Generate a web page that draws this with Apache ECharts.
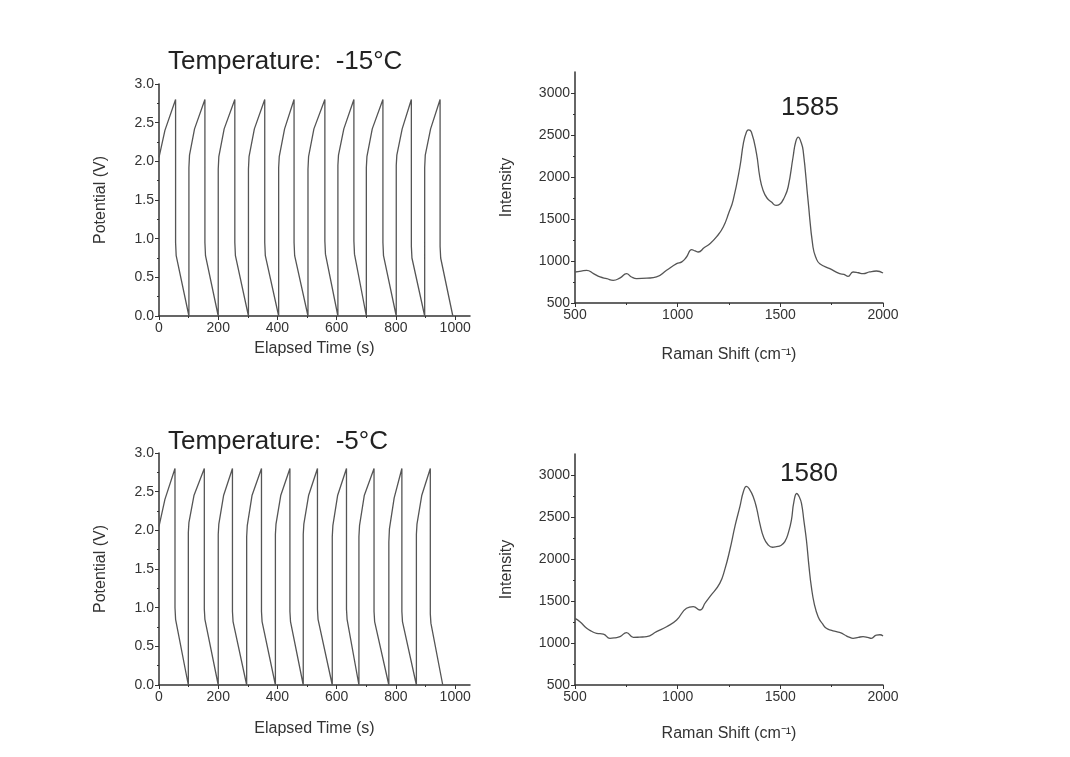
<!DOCTYPE html>
<html>
<head>
<meta charset="utf-8">
<script src="https://cdn.jsdelivr.net/npm/echarts@6/dist/echarts.min.js"></script>
<style>
  html, body { margin: 0; padding: 0; background: #fff; }
  #main { width: 1070px; height: 757px; }
</style>
</head>
<body>
<div id="main"></div>
<script>
// charge / discharge curves: [time s, potential V]
var gcdMinus15 = [
  [0, 2.05], [20, 2.4], [56, 2.8], [56, 0.95], [58, 0.78], [101, 0],
  [101, 1.92], [103, 2.08], [120, 2.42], [155, 2.8], [155, 0.95], [157, 0.78], [200, 0],
  [200, 1.9], [202, 2.06], [220, 2.42], [256, 2.8], [256, 0.95], [258, 0.78], [302, 0],
  [302, 1.9], [304, 2.06], [322, 2.42], [357, 2.8], [357, 0.95], [359, 0.78], [404, 0],
  [404, 1.92], [406, 2.06], [424, 2.42], [456, 2.8], [456, 0.95], [458, 0.78], [503, 0],
  [503, 1.9], [505, 2.06], [523, 2.42], [560, 2.8], [560, 0.97], [562, 0.8], [604, 0],
  [604, 1.95], [606, 2.08], [624, 2.42], [658, 2.8], [658, 0.97], [660, 0.8], [700, 0],
  [700, 1.92], [702, 2.06], [720, 2.42], [756, 2.8], [756, 0.95], [758, 0.78], [801, 0],
  [801, 1.95], [803, 2.08], [821, 2.42], [852, 2.8], [852, 0.9], [854, 0.75], [897, 0],
  [897, 1.92], [899, 2.08], [917, 2.42], [949, 2.8], [949, 0.9], [951, 0.75], [992, 0]
];
var gcdMinus5 = [
  [0, 2.05], [20, 2.4], [54, 2.8], [54, 1.0], [56, 0.85], [99, 0],
  [99, 1.97], [101, 2.1], [118, 2.45], [153, 2.8], [153, 0.98], [155, 0.85], [200, 0],
  [200, 1.95], [202, 2.08], [218, 2.45], [248, 2.8], [248, 0.95], [250, 0.82], [296, 0],
  [296, 1.92], [298, 2.06], [314, 2.45], [346, 2.8], [346, 0.95], [348, 0.82], [393, 0],
  [393, 1.95], [395, 2.08], [411, 2.45], [442, 2.8], [442, 0.95], [444, 0.82], [487, 0],
  [487, 1.95], [489, 2.08], [505, 2.45], [535, 2.8], [535, 0.98], [537, 0.85], [585, 0],
  [585, 1.92], [587, 2.06], [603, 2.45], [633, 2.8], [633, 0.98], [635, 0.85], [675, 0],
  [675, 1.92], [677, 2.06], [693, 2.45], [726, 2.8], [726, 0.95], [728, 0.82], [776, 0],
  [776, 1.85], [778, 2.02], [794, 2.42], [820, 2.8], [820, 0.95], [822, 0.82], [869, 0],
  [869, 1.95], [871, 2.08], [887, 2.45], [916, 2.8], [916, 0.92], [918, 0.8], [958, 0]
];

// Raman spectra: [shift cm-1, intensity]
var ramanMinus15 = [
  [500, 869], [530, 880], [557, 889], [590, 850], [622, 810], [655, 790], [686, 770],
  [720, 800], [751, 849], [775, 810], [800, 790], [850, 795], [897, 810], [946, 889],
  [995, 968], [1020, 990], [1043, 1048], [1068, 1135], [1085, 1120], [1100, 1107],
  [1130, 1160], [1157, 1206], [1190, 1290], [1222, 1405], [1250, 1580], [1270, 1722],
  [1303, 2119], [1320, 2400], [1335, 2536], [1345, 2560], [1359, 2536], [1384, 2278],
  [1400, 2000], [1416, 1841], [1435, 1750], [1457, 1702], [1479, 1662], [1497, 1675],
  [1520, 1760], [1538, 1881], [1562, 2238], [1575, 2420], [1588, 2475], [1600, 2420],
  [1611, 2317], [1635, 1722], [1659, 1167], [1675, 1030], [1692, 968], [1741, 909],
  [1789, 849], [1810, 840], [1830, 817], [1854, 869], [1880, 860], [1903, 849],
  [1935, 870], [1968, 881], [2000, 857]
];
var ramanMinus5 = [
  [500, 1294], [524, 1254], [557, 1175], [580, 1140], [605, 1115], [638, 1107],
  [670, 1056], [695, 1062], [719, 1075], [751, 1123], [784, 1067], [815, 1070],
  [849, 1075], [897, 1135], [946, 1194], [995, 1274], [1043, 1413], [1076, 1433],
  [1108, 1393], [1135, 1480], [1157, 1552], [1205, 1710], [1230, 1880], [1254, 2107],
  [1280, 2400], [1303, 2623], [1320, 2800], [1335, 2865], [1350, 2830], [1368, 2742],
  [1385, 2600], [1400, 2425], [1420, 2250], [1441, 2167], [1462, 2140], [1481, 2147],
  [1502, 2160], [1522, 2206], [1540, 2320], [1554, 2464], [1566, 2680], [1580, 2780],
  [1592, 2740], [1603, 2663], [1615, 2450], [1627, 2226], [1640, 1900], [1651, 1671],
  [1665, 1470], [1684, 1313], [1705, 1230], [1724, 1175], [1750, 1150], [1773, 1135],
  [1795, 1120], [1814, 1095], [1835, 1070], [1854, 1056], [1880, 1068], [1903, 1075],
  [1925, 1068], [1943, 1056], [1968, 1095], [1985, 1098], [2000, 1083]
];

var potentialTicks = [0, 0.5, 1.0, 1.5, 2.0, 2.5, 3.0];
var timeTicks = [0, 200, 400, 600, 800, 1000];
var intensityTicks = [500, 1000, 1500, 2000, 2500, 3000];
var shiftTicks = [500, 1000, 1500, 2000];

var panelTitles = ["Temperature:  -15\u00b0C", "Temperature:  -5\u00b0C"];
var peakLabels = ["1585", "1580"];

var font = "Liberation Sans, Arial, sans-serif";
var axisColor = "#333";
var lineColor = "#555";

function plain(v) { return String(v); }

function makeAxis(opt) {
  var label = { color: "#333", fontSize: 14, fontFamily: font, margin: 5, formatter: opt.formatter || plain };
  var tick = { show: true, length: 4, lineStyle: { color: axisColor } };
  if (opt.ticks) { label.customValues = opt.ticks; tick.customValues = opt.ticks; }
  return {
    type: "value", gridIndex: opt.idx, min: opt.min, max: opt.max, interval: opt.interval,
    name: opt.name, nameGap: opt.gap, nameLocation: "middle",
    nameTextStyle: { color: "#333", fontSize: 16, fontFamily: font },
    axisLine: { show: true, onZero: false, lineStyle: { color: axisColor, width: 1.5 } },
    axisTick: tick,
    minorTick: { show: true, splitNumber: 2, length: 2, lineStyle: { color: axisColor } },
    splitLine: { show: false },
    axisLabel: label
  };
}

var grids = [
  { left: 159, top: 84, width: 311, height: 232 },
  { left: 575, top: 72, width: 308, height: 231 },
  { left: 159, top: 453, width: 311, height: 232 },
  { left: 575, top: 454, width: 308, height: 231 }
];

function timeAxis(idx, gap) {
  return makeAxis({ idx: idx, min: 0, max: 1050, interval: 200, ticks: timeTicks, name: "Elapsed Time (s)", gap: gap });
}
function potAxis(idx) {
  return makeAxis({
    idx: idx, min: 0, max: 3, interval: 0.5, ticks: potentialTicks, name: "Potential (V)", gap: 50,
    formatter: function (v) { return v.toFixed(1); }
  });
}
function shiftAxis(idx, gap) {
  return makeAxis({ idx: idx, min: 500, max: 2000, interval: 500, ticks: shiftTicks, name: "Raman Shift (cm\u207b\u00b9)", gap: gap });
}
function intAxis(idx) {
  return makeAxis({ idx: idx, min: 500, max: 3250, interval: 500, ticks: intensityTicks, name: "Intensity", gap: 60 });
}

function lineSeries(idx, data, smooth) {
  return {
    type: "line", xAxisIndex: idx, yAxisIndex: idx, data: data,
    showSymbol: false, smooth: smooth, animation: false,
    lineStyle: { color: lineColor, width: 1.3 }
  };
}

function textTitle(text, left, top) {
  return { text: text, left: left, top: top, padding: 0,
    textStyle: { fontSize: 26, fontWeight: "normal", color: "#222", fontFamily: font } };
}

var option = {
  backgroundColor: "#fff",
  animation: false,
  title: [
    textTitle(panelTitles[0], 168, 49),
    textTitle(panelTitles[1], 168, 429),
    textTitle(peakLabels[0], 781, 95),
    textTitle(peakLabels[1], 780, 461)
  ],
  grid: grids,
  xAxis: [timeAxis(0, 25), shiftAxis(1, 44), timeAxis(2, 36), shiftAxis(3, 41)],
  yAxis: [potAxis(0), intAxis(1), potAxis(2), intAxis(3)],
  series: [
    lineSeries(0, gcdMinus15, false),
    lineSeries(1, ramanMinus15, true),
    lineSeries(2, gcdMinus5, false),
    lineSeries(3, ramanMinus5, true)
  ]
};

var chart = echarts.init(document.getElementById("main"));
chart.setOption(option);
</script>
</body>
</html>
